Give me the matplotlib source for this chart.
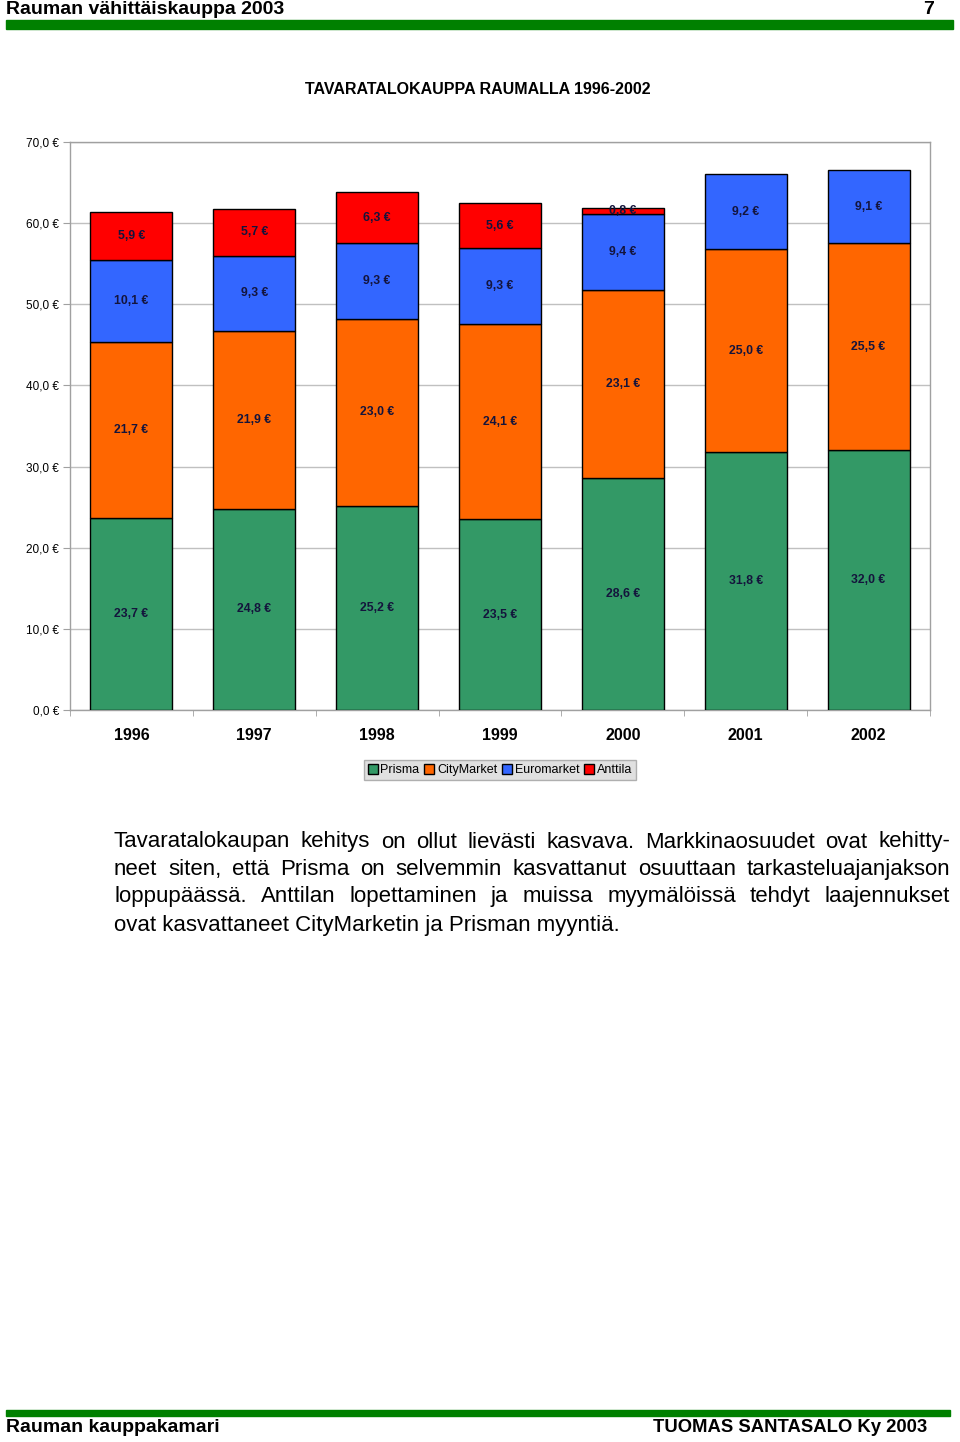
import numpy as np
import matplotlib
matplotlib.use("Agg")
import matplotlib.pyplot as plt
from matplotlib.patches import Rectangle, Patch

plt.rcParams['font.family'] = ['Liberation Sans', 'DejaVu Sans']

# Data (million euros)
years = ['1996', '1997', '1998', '1999', '2000', '2001', '2002']
prisma = [23.7, 24.8, 25.2, 23.5, 28.6, 31.8, 32.0]
citymarket = [21.7, 21.9, 23.0, 24.1, 23.1, 25.0, 25.5]
euromarket = [10.1, 9.3, 9.3, 9.3, 9.4, 9.2, 9.1]
anttila = [5.9, 5.7, 6.3, 5.6, 0.8, 0.0, 0.0]
series = ['Prisma', 'CityMarket', 'Euromarket', 'Anttila']
colors = ['#339966', '#FF6600', '#3366FF', '#FF0000']
yticks = [0, 10, 20, 30, 40, 50, 60, 70]

paragraph = [
    "Tavaratalokaupan kehitys on ollut lievästi kasvava. Markkinaosuudet ovat kehitty-",
    "neet siten, että Prisma on selvemmin kasvattanut osuuttaan tarkasteluajanjakson",
    "loppupäässä. Anttilan lopettaminen ja muissa myymälöissä tehdyt laajennukset",
    "ovat kasvattaneet CityMarketin ja Prisman myyntiä.",
]

W, H = 960, 1442
fig = plt.figure(figsize=(W / 100, H / 100), dpi=100)


def fx(px):
    return px / W


def fy(py):
    return 1 - py / H


# header / footer
fig.text(fx(6), fy(9), "Rauman vähittäiskauppa 2003", fontsize=14, fontweight='bold',
         va='center', ha='left')
fig.text(fx(934), fy(9), "7", fontsize=14, fontweight='bold', va='center', ha='right')
fig.patches.append(Rectangle((fx(6), fy(29)), fx(947), (29 - 20) / H,
                             transform=fig.transFigure, color='#008000'))
fig.patches.append(Rectangle((fx(6), fy(1416)), fx(944), (1416 - 1410) / H,
                             transform=fig.transFigure, color='#008000'))
fig.text(fx(6), fy(1428), "Rauman kauppakamari", fontsize=14, fontweight='bold',
         va='center', ha='left')
fig.text(fx(927), fy(1428), "TUOMAS SANTASALO Ky 2003", fontsize=13.3, fontweight='bold',
         va='center', ha='right')

# chart title
fig.text(fx(478), fy(89), "TAVARATALOKAUPPA RAUMALLA 1996-2002", fontsize=11.5,
         fontweight='bold', va='center', ha='center')

# chart
ax = fig.add_axes([fx(70), fy(710), fx(860), (710 - 142) / H])
x = np.arange(len(years))
bottom = np.zeros(len(years))
for name, vals, c in zip(series, [prisma, citymarket, euromarket, anttila], colors):
    vals = np.array(vals)
    mask = vals > 0
    ax.bar(x[mask], vals[mask], width=0.667, bottom=bottom[mask], color=c,
           edgecolor='black', linewidth=1, zorder=3)
    for xi, v, b in zip(x[mask], vals[mask], bottom[mask]):
        ax.text(xi, b + v / 2, f"{v:.1f} €".replace('.', ','), ha='center', va='center',
                fontsize=8.8, fontweight='bold', color='#14143c', zorder=4)
    bottom = bottom + vals

ax.set_xlim(-0.5, len(years) - 0.5)
ax.set_ylim(0, 70)
ax.set_yticks(yticks)
ax.set_yticklabels([f"{t:.1f} €".replace('.', ',') for t in yticks], fontsize=8.5)
ax.yaxis.grid(True, color='#c0c0c0', linewidth=1, zorder=0)
ax.set_xticks(x)
ax.set_xticklabels(years, fontsize=11.5, fontweight='bold')
ax.set_xticks(np.arange(len(years) + 1) - 0.5, minor=True)
ax.tick_params(axis='x', which='major', length=0, pad=13)
ax.tick_params(axis='x', which='minor', length=4, color='#a0a0a0')
ax.tick_params(axis='y', length=5, color='#a0a0a0', pad=3)
for s in ax.spines.values():
    s.set_color('#a0a0a0')
    s.set_linewidth(1)

handles = [Patch(facecolor=c, edgecolor='black', label=n) for n, c in zip(series, colors)]
leg = fig.legend(handles=handles, loc='center', bbox_to_anchor=(fx(500), fy(770)), ncol=4,
                 fontsize=9, frameon=True, fancybox=False, handlelength=0.8, handleheight=0.8,
                 handletextpad=0.2, columnspacing=0.4, borderpad=0.3, borderaxespad=0)
leg.get_frame().set_facecolor('#d9d9d9')
leg.get_frame().set_edgecolor('#a0a0a0')

# justified paragraph
fig.canvas.draw()
renderer = fig.canvas.get_renderer()
left_px, right_px = 114, 950
line_y = [842, 870, 897, 925]
fsize = 16
for i, (line, yy) in enumerate(zip(paragraph, line_y)):
    words = line.split(' ')
    if i == len(paragraph) - 1:
        fig.text(fx(left_px), fy(yy), line, fontsize=fsize, va='center', ha='left')
        continue
    widths = []
    for w in words:
        t = fig.text(0, 0, w, fontsize=fsize)
        widths.append(t.get_window_extent(renderer).width)
        t.remove()
    gap = (right_px - left_px - sum(widths)) / (len(words) - 1)
    pos = left_px
    for w, wd in zip(words, widths):
        fig.text(fx(pos), fy(yy), w, fontsize=fsize, va='center', ha='left')
        pos += wd + gap

fig.savefig('out.png', dpi=100)
